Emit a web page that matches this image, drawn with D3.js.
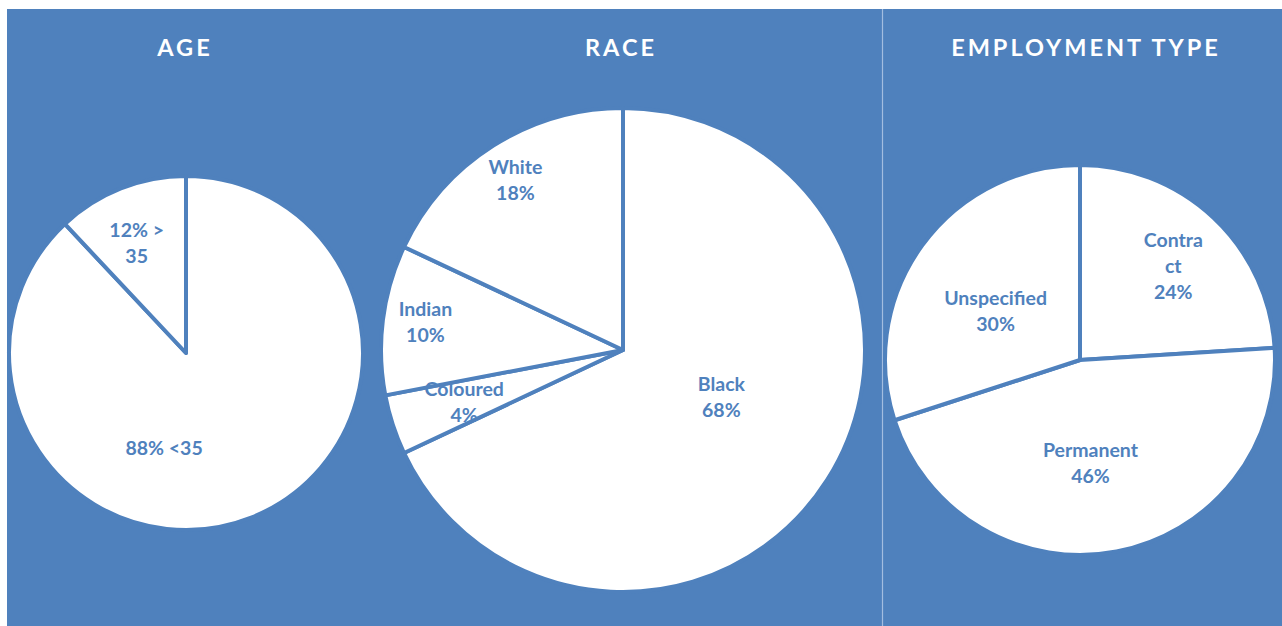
<!DOCTYPE html>
<html><head><meta charset="utf-8">
<script src="https://cdn.jsdelivr.net/npm/d3@7"></script>
<style>html,body{margin:0;padding:0;background:#fff;overflow:hidden}</style>
</head><body><svg id="c" width="1282" height="626"></svg>
<script>
// ---- data ----
const chartTitles = ["AGE", "RACE", "EMPLOYMENT TYPE"];
const ageCategories = ["<35", "> 35"];
const ageValues = [88, 12];
const raceCategories = ["Black", "Coloured", "Indian", "White"];
const raceValues = [68, 4, 10, 18];
const employmentCategories = ["Contract", "Permanent", "Unspecified"];
const employmentValues = [24, 46, 30];

// ---- layout / style ----
const BLUE = "#4F81BD";
const FONT = "Lato, 'Open Sans', sans-serif";
const svg = d3.select("#c");
svg.append("rect").attr("x", 7).attr("y", 9).attr("width", 1275).attr("height", 617).attr("fill", BLUE);
svg.append("line").attr("x1", 882.5).attr("x2", 882.5).attr("y1", 9).attr("y2", 626)
  .attr("stroke", "#a3bde0").attr("stroke-width", 1.2);

const charts = [
  { title: chartTitles[0], cats: ageCategories, vals: ageValues, cx: 186, cy: 353, r: 177, titleX: 185,
    valueFirst: true,
    labels: [{ f: 0.55, shift: 34.6, wrap: Infinity }, { f: 0.68, shift: -2.6, wrap: 64 }] },
  { title: chartTitles[1], cats: raceCategories, vals: raceValues, cx: 623, cy: 350, r: 242, titleX: 621,
    valueFirst: false,
    labels: [{ f: 0.45, shift: -7, wrap: Infinity }, { f: 0.69, shift: 0, wrap: Infinity },
             { f: 0.825, shift: 1, wrap: Infinity }, { f: 0.83, shift: 0, wrap: Infinity }] },
  { title: chartTitles[2], cats: employmentCategories, vals: employmentValues, cx: 1080, cy: 360, r: 195, titleX: 1086,
    valueFirst: false,
    labels: [{ f: 0.68, shift: 1.5, wrap: 64 }, { f: 0.53, shift: 5, wrap: Infinity },
             { f: 0.5, shift: -6, wrap: Infinity }] }
];

const LABEL_SIZE = 19.5;
const LINE_H = 26;

// measuring helper
const meas = svg.append("text").attr("font-family", FONT).attr("font-weight", "bold")
  .attr("font-size", LABEL_SIZE).attr("visibility", "hidden");
function textW(s) { meas.text(s); return meas.node().getComputedTextLength(); }
function wrap(str, maxW) {
  if (!isFinite(maxW)) return [str];
  const words = str.split(" ");
  const lines = [];
  let cur = "";
  words.forEach(w => {
    const trial = cur ? cur + " " + w : w;
    if (textW(trial) <= maxW) { cur = trial; return; }
    if (cur) { lines.push(cur); cur = ""; }
    let piece = "";
    for (const ch of w) {
      if (textW(piece + ch) <= maxW || piece === "") piece += ch;
      else { lines.push(piece); piece = ch; }
    }
    cur = piece;
  });
  if (cur) lines.push(cur);
  return lines;
}

const pie = d3.pie().sort(null).value(d => d);

charts.forEach(c => {
  const g = svg.append("g").attr("transform", `translate(${c.cx},${c.cy})`);
  const arcs = pie(c.vals);
  const arc = d3.arc().innerRadius(0).outerRadius(c.r);
  g.selectAll("path.slice").data(arcs).join("path").attr("class", "slice")
    .attr("d", arc).attr("fill", "#fff").attr("stroke", BLUE).attr("stroke-width", 4)
    .attr("stroke-linejoin", "round");

  arcs.forEach((a, i) => {
    const L = c.labels[i];
    const mid = (a.startAngle + a.endAngle) / 2 + L.shift * Math.PI / 180;
    const rr = c.r * L.f;
    const x = rr * Math.sin(mid), y = -rr * Math.cos(mid);
    let lines;
    if (c.valueFirst) lines = wrap(`${c.vals[i]}% ${c.cats[i]}`, L.wrap);
    else lines = wrap(c.cats[i], L.wrap).concat([`${c.vals[i]}%`]);
    const t = g.append("text").attr("font-family", FONT).attr("font-weight", "bold")
      .attr("font-size", LABEL_SIZE).attr("fill", BLUE).attr("text-anchor", "middle");
    const y0 = y - (lines.length - 1) * LINE_H / 2;
    lines.forEach((ln, j) => {
      t.append("tspan").attr("x", x).attr("y", y0 + j * LINE_H).attr("dy", "0.36em").text(ln);
    });
  });

  svg.append("text").attr("x", c.titleX).attr("y", 56).attr("text-anchor", "middle")
    .attr("font-family", FONT).attr("font-weight", "bold").attr("font-size", 23.5)
    .attr("letter-spacing", "3px").attr("fill", "#fff").text(c.title);
});
meas.remove();
</script></body></html>
